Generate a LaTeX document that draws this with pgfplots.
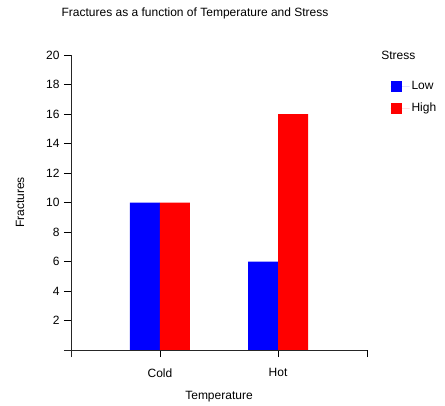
\documentclass[border=0pt]{standalone}
\usepackage{fontspec}
\setmainfont{Liberation Sans}
\usepackage{pgfplots}
\pgfplotsset{compat=1.18}
\begin{document}
\begin{tikzpicture}[x=1pt,y=1pt,font=\fontsize{12}{14}\selectfont]
\useasboundingbox (0,0) rectangle (445,405);
\node[font=\fontsize{12}{14}\selectfont] at (195,392) {Fractures as a function of Temperature and Stress};
\begin{axis}[
  at={(71pt,55pt)}, anchor=south west,
  scale only axis, width=296pt, height=295pt,
  xmin=0.246, xmax=2.754, ymin=0, ymax=20,
  ybar=0pt, bar width=30pt,
  axis line style={draw=none},
  xtick pos=bottom, ytick pos=left,
  tick align=outside, major tick length=7pt,
  tick style={black, line width=0.8pt},
  xtick={0.246,1,2,2.754},
  xticklabels={,Cold,Hot,},
  ytick={2,4,...,20},
  /pgf/number format/assume math mode=true,
  ticklabel style={font=\fontsize{12}{14}\selectfont},
  xticklabel style={yshift=-8pt},
  yticklabel style={xshift=-1pt},
  xlabel={Temperature}, ylabel={Fractures},
  xlabel style={yshift=-7pt},
  ylabel style={yshift=15pt},
  clip=false,
  legend style={at={([xshift=5pt,yshift=-3.5pt]rel axis cs:1.062,0.93)}, anchor=north west, draw=none, fill=none,
    font=\fontsize{12}{14}\selectfont, row sep=8pt, inner sep=0pt},
  legend cell align=left,
  legend image code/.code={\fill[#1] (0pt,-5.5pt) rectangle (11pt,5.5pt); \path (0pt,0pt) -- (19pt,0pt);},
]
\addplot[fill=blue, draw=none] coordinates {(1,10) (2,6)};
\addplot[fill=red, draw=none] coordinates {(1,10) (2,16)};
\legend{Low,High}
\draw[black!85, line width=0.8pt] (axis cs:0.246,20) -- ([yshift=-7pt]axis cs:0.246,0);
\draw[black!85, line width=0.8pt] ([xshift=-7pt]axis cs:0.246,0) -- (axis cs:2.754,0);
\node[anchor=west] at ([xshift=-1pt]rel axis cs:1.04,1.0) {Stress};
\end{axis}
\end{tikzpicture}
\end{document}
